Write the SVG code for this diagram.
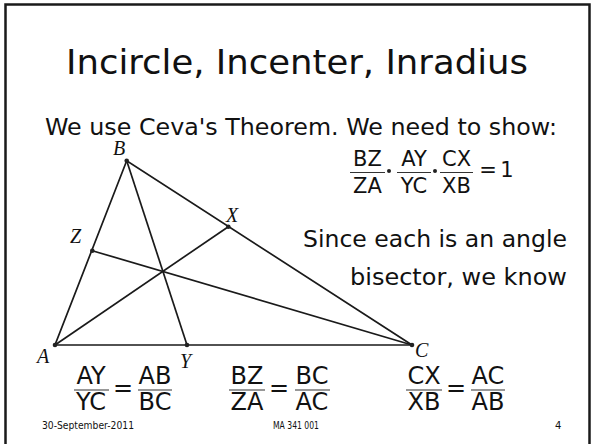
<svg xmlns="http://www.w3.org/2000/svg" width="594" height="444" viewBox="0 0 594 444">
<style>
.t{font-family:"DejaVu Sans",sans-serif;fill:#111}
.f{font-family:"DejaVu Sans",sans-serif;fill:#111;text-anchor:middle}
.lbl{font-family:"Liberation Serif",serif;font-style:italic;font-size:20px;fill:#111}
.ln{stroke:#1a1a1a;stroke-width:1.7;fill:none}
.fl{stroke:#333;stroke-width:1.2}
.dot{fill:#222}
</style>
<rect x="5.5" y="4.5" width="584" height="446" fill="#fff" stroke="#1a1a1a" stroke-width="2.5"/>
<text class="t" x="297" y="74" font-size="34" text-anchor="middle" textLength="462" lengthAdjust="spacingAndGlyphs">Incircle, Incenter, Inradius</text>
<text class="t" x="45" y="135" font-size="22.5" textLength="512" lengthAdjust="spacingAndGlyphs">We use Ceva's Theorem. We need to show:</text>
<g id="top-formula" font-size="21">
<text class="f" x="367.5" y="166">BZ</text><line class="fl" x1="350" y1="172.5" x2="385" y2="172.5"/><text class="f" x="367.5" y="193">ZA</text>
<circle class="dot" cx="389" cy="171" r="2"/>
<text class="f" x="414" y="166">AY</text><line class="fl" x1="397" y1="172.5" x2="431" y2="172.5"/><text class="f" x="414" y="193">YC</text>
<circle class="dot" cx="435" cy="171" r="2"/>
<text class="f" x="456.5" y="166">CX</text><line class="fl" x1="440" y1="172.5" x2="473" y2="172.5"/><text class="f" x="456.5" y="193">XB</text>
<text class="f" x="488" y="177">=</text><text class="f" x="507" y="177">1</text>
</g>
<text class="t" x="303" y="247" font-size="23" textLength="264" lengthAdjust="spacingAndGlyphs">Since each is an angle</text>
<text class="t" x="350" y="285" font-size="23" textLength="217" lengthAdjust="spacingAndGlyphs">bisector, we know</text>
<g id="connectors">
<polyline class="ln" points="412,345 55,345 126.7,160.7 412,345"/>
<line class="ln" x1="126.7" y1="160.7" x2="187" y2="345"/>
<line class="ln" x1="55" y1="345" x2="228.3" y2="226.7"/>
<line class="ln" x1="92.3" y1="250.7" x2="412" y2="345"/>
</g>
<g id="node-B"><circle class="dot" cx="126.7" cy="160.7" r="2.3"/><text class="lbl" x="113" y="155">B</text></g>
<g id="node-Z"><circle class="dot" cx="92.3" cy="250.7" r="2.3"/><text class="lbl" x="70" y="243">Z</text></g>
<g id="node-X"><circle class="dot" cx="228.3" cy="226.7" r="2.3"/><text class="lbl" x="226" y="222">X</text></g>
<g id="node-A"><circle class="dot" cx="55" cy="345" r="2.3"/><text class="lbl" x="37" y="363">A</text></g>
<g id="node-Y"><circle class="dot" cx="187" cy="345" r="2.3"/><text class="lbl" x="180" y="368">Y</text></g>
<g id="node-C"><circle class="dot" cx="412" cy="345" r="2.3"/><text class="lbl" x="415" y="357">C</text></g>
<g id="bottom-formulas" font-size="24">
<text class="f" x="91" y="384">AY</text><line class="fl" x1="74" y1="390" x2="109" y2="390"/><text class="f" x="91" y="410">YC</text>
<text class="f" x="123" y="396">=</text>
<text class="f" x="155" y="384">AB</text><line class="fl" x1="138" y1="390" x2="172" y2="390"/><text class="f" x="155" y="410">BC</text>
<text class="f" x="247" y="384">BZ</text><line class="fl" x1="229" y1="390" x2="265" y2="390"/><text class="f" x="247" y="410">ZA</text>
<text class="f" x="279" y="396">=</text>
<text class="f" x="312" y="384">BC</text><line class="fl" x1="295" y1="390" x2="330" y2="390"/><text class="f" x="312" y="410">AC</text>
<text class="f" x="424" y="384">CX</text><line class="fl" x1="406" y1="390" x2="442" y2="390"/><text class="f" x="424" y="410">XB</text>
<text class="f" x="456" y="396">=</text>
<text class="f" x="488" y="384">AC</text><line class="fl" x1="471" y1="390" x2="505" y2="390"/><text class="f" x="488" y="410">AB</text>
</g>
<g font-size="10" class="t">
<text x="42" y="429" textLength="92" lengthAdjust="spacingAndGlyphs">30-September-2011</text>
<text x="273" y="429" textLength="46" lengthAdjust="spacingAndGlyphs">MA 341 001</text>
<text x="555" y="429">4</text>
</g>
</svg>
